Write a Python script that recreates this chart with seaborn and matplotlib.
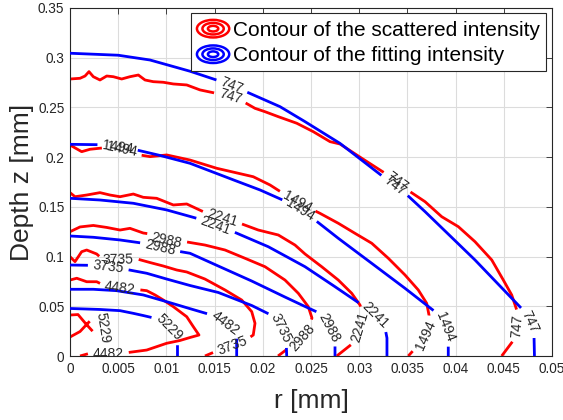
import numpy as np
import matplotlib
matplotlib.use("Agg")
import matplotlib.pyplot as plt
import seaborn as sns
from matplotlib.contour import ContourSet
from matplotlib.legend_handler import HandlerBase
from matplotlib.lines import Line2D
from matplotlib.patches import Ellipse
from matplotlib.ticker import FormatStrFormatter

# Contour levels of the intensity
levels = [747, 1494, 2241, 2988, 3735, 4482, 5229]

# Contours of the scattered (measured) intensity: radius r and depth z in mm
scat_747_r = [0, 0.00104, 0.00156, 0.00197, 0.00242, 0.00311, 0.00381, 0.00449, 0.00536, 0.00622,
              0.00709, 0.00778, 0.00864, 0.00968, 0.01072, 0.01211, 0.01349, 0.01487, 0.0166, 0.01798,
              0.01919, 0.02023, 0.02161, 0.02352, 0.02524, 0.02697, 0.02801, 0.02853, 0.03026, 0.03268,
              0.03392, 0.03527, 0.03683, 0.03856, 0.04028, 0.04201, 0.04375, 0.04495, 0.04582, 0.04634,
              0.04637, 0.04616, 0.04478]
scat_747_z = [0.2786, 0.2793, 0.2816, 0.2860, 0.2809, 0.2776, 0.2816, 0.2809, 0.2786, 0.2809,
              0.2826, 0.2776, 0.2759, 0.2753, 0.2736, 0.2726, 0.2676, 0.2648, 0.2605, 0.2558,
              0.2491, 0.2457, 0.2407, 0.2341, 0.2256, 0.2156, 0.2132, 0.2099, 0.1989, 0.1838,
              0.1750, 0.1653, 0.1552, 0.1401, 0.1301, 0.1150, 0.0966, 0.0764, 0.0614, 0.0463,
              0.0322, 0.0178, 0.0]
scat_1494_r = [0, 0.00121, 0.00207, 0.00363, 0.00519, 0.00726, 0.0083, 0.01003, 0.01245, 0.01522,
               0.01901, 0.02075, 0.02265, 0.02438, 0.02593, 0.02783, 0.02956, 0.0313, 0.03302, 0.03475,
               0.03613, 0.037, 0.03724, 0.03703, 0.03597, 0.03509]
scat_1494_z = [0.2122, 0.2055, 0.2079, 0.2095, 0.2082, 0.2022, 0.2005, 0.2022, 0.1971, 0.1888,
               0.1803, 0.1720, 0.1602, 0.1509, 0.1435, 0.1335, 0.1234, 0.1134, 0.0983, 0.0815,
               0.0664, 0.0530, 0.0412, 0.0231, 0.0094, 0.0]
scat_2241_r = [0, 0.00052, 0.00173, 0.00311, 0.00415, 0.00519, 0.00657, 0.0076, 0.00899, 0.01072,
               0.01211, 0.01383, 0.01556, 0.01763, 0.01953, 0.02161, 0.02334, 0.02438, 0.02611, 0.02783,
               0.02922, 0.03008, 0.03034, 0.03008, 0.02925, 0.02767]
scat_2241_z = [0.1643, 0.1602, 0.1619, 0.1643, 0.1619, 0.1602, 0.1629, 0.1596, 0.1586, 0.1519,
               0.1529, 0.1451, 0.1398, 0.1335, 0.1267, 0.1217, 0.1116, 0.1026, 0.0898, 0.0764,
               0.0631, 0.0513, 0.0443, 0.0292, 0.0121, 0.0]
scat_2988_r = [0, 0.00104, 0.00242, 0.00381, 0.00519, 0.00622, 0.0076, 0.0083, 0.01003, 0.01193,
               0.014, 0.01608, 0.01815, 0.02023, 0.0223, 0.02368, 0.02472, 0.0251, 0.02448, 0.02282,
               0.02158]
scat_2988_z = [0.1250, 0.1298, 0.1313, 0.1293, 0.1267, 0.1284, 0.1237, 0.1227, 0.1167, 0.1150,
               0.1116, 0.1066, 0.0983, 0.0898, 0.0764, 0.0631, 0.0496, 0.0382, 0.0221, 0.0091,
               0.0]
scat_3735_r = [0, 0.00052, 0.00121, 0.00173, 0.00277, 0.00345, 0.00498, 0.00695, 0.0083, 0.00968,
               0.01107, 0.01211, 0.014, 0.01608, 0.01781, 0.01885, 0.01919, 0.01901, 0.01763, 0.01577,
               0.01504, 0.014]
scat_3735_z = [0.0999, 0.0949, 0.1049, 0.1066, 0.1026, 0.0966, 0.0966, 0.0976, 0.0940, 0.0905,
               0.0865, 0.0845, 0.0774, 0.0664, 0.0563, 0.0446, 0.0329, 0.0211, 0.0121, 0.0070,
               0.0043, 0.0]
scat_4482_r = [0, 0.0007, 0.00173, 0.00277, 0.00345, 0.00519, 0.00692, 0.00796, 0.00882, 0.00968,
               0.01072, 0.01211, 0.01279, 0.01338, 0.01245, 0.01141, 0.01003, 0.00796, 0.00602, 0.00394,
               0.00225, 0.00104]
scat_4482_z = [0.0764, 0.0782, 0.0747, 0.0747, 0.0714, 0.0684, 0.0669, 0.0657, 0.0614, 0.0563,
               0.0496, 0.0395, 0.0295, 0.0211, 0.0186, 0.0156, 0.0128, 0.0060, 0.0035, 0.0020,
               0.0033, 0.0]
scat_5229_r = [0, 0.00083, 0.00166, 0.0028, 0.00322, 0.00353, 0.00311, 0.00249, 0.00187, 0.00104, 0]
scat_5229_z = [0.0412, 0.0417, 0.0322, 0.0201, 0.0191, 0.0262, 0.0342, 0.0392, 0.0332, 0.0246, 0.0191]

# Contours of the fitted intensity model
fit_747_r = [0.0, 0.0050, 0.0083, 0.01245, 0.01535, 0.01815, 0.02178, 0.02438, 0.0280, 0.03247,
             0.03496, 0.03683, 0.04201, 0.04689, 0.04761, 0.04813, 0.04818]
fit_747_z = [0.3045, 0.3025, 0.2977, 0.2864, 0.2771, 0.2663, 0.2508, 0.2357, 0.2139, 0.1804,
             0.1620, 0.1452, 0.0966, 0.0473, 0.0352, 0.0221, 0.0]
fit_1494_r = [0.0, 0.00311, 0.00692, 0.00934, 0.01245, 0.01712, 0.01971, 0.02206, 0.02365, 0.02541,
              0.02783, 0.0313, 0.03475, 0.03786, 0.03869, 0.03911, 0.03924, 0.03924]
fit_1494_z = [0.2129, 0.2125, 0.2072, 0.2017, 0.1938, 0.1765, 0.1670, 0.1569, 0.1479, 0.1368,
              0.1184, 0.0932, 0.0681, 0.0446, 0.0362, 0.0231, 0.0111, 0.0]
fit_2241_r = [0.0, 0.00311, 0.00657, 0.01003, 0.01314, 0.01483, 0.01694, 0.02057, 0.02438, 0.02749,
              0.03078, 0.03195, 0.03268, 0.03288, 0.03288]
fit_2241_z = [0.1586, 0.1569, 0.1536, 0.1469, 0.1385, 0.1318, 0.1250, 0.1099, 0.0898, 0.0697,
              0.0480, 0.0382, 0.0282, 0.0181, 0.0]
fit_2988_r = [0.0, 0.00242, 0.00519, 0.0076, 0.00934, 0.01107, 0.01245, 0.01538, 0.01885, 0.0223,
              0.02438, 0.02593, 0.02676, 0.02728, 0.02749, 0.02749]
fit_2988_z = [0.1207, 0.1194, 0.1167, 0.1134, 0.1094, 0.1056, 0.1033, 0.0905, 0.0754, 0.0593,
              0.0498, 0.0429, 0.0302, 0.0211, 0.0141, 0.0]
fit_3735_r = [0.0, 0.00207, 0.00415, 0.00588, 0.00796, 0.01003, 0.01245, 0.01538, 0.01885, 0.02127,
              0.02199, 0.02241, 0.02248]
fit_3735_z = [0.0915, 0.0912, 0.0893, 0.0870, 0.0832, 0.0774, 0.0709, 0.0639, 0.0508, 0.0392,
              0.0262, 0.0181, 0.0]
fit_4482_r = [0.0, 0.00242, 0.00484, 0.0076, 0.01003, 0.01245, 0.0147, 0.01608, 0.01691, 0.01729, 0.01729]
fit_4482_z = [0.0671, 0.0671, 0.0657, 0.0614, 0.0546, 0.0476, 0.0412, 0.0332, 0.0262, 0.0221, 0.0]
fit_5229_r = [0.0, 0.00311, 0.00519, 0.00657, 0.0076, 0.00892, 0.01017, 0.01089, 0.01115, 0.01115]
fit_5229_z = [0.0478, 0.0468, 0.0456, 0.0429, 0.0407, 0.0377, 0.0302, 0.0221, 0.0161, 0.0]

# Where the inline level labels sit (r, z)
scat_label_pos = [(0.0166, 0.2600), (0.03402, 0.1760), (0.04637, 0.0300),
                  (0.0054, 0.2075), (0.02355, 0.1545), (0.03683, 0.0211),
                  (0.01574, 0.1368), (0.0303, 0.0292),
                  (0.01003, 0.1167), (0.02403, 0.0194),
                  (0.00501, 0.0966), (0.01677, 0.0128),
                  (0.00519, 0.0690), (0.00397, 0.0020),
                  (0.0033, 0.0275)]
fit_label_pos = [(0.01677, 0.2709), (0.03371, 0.1720), (0.04772, 0.0342),
                 (0.00498, 0.2125), (0.02386, 0.1469), (0.0388, 0.0292),
                 (0.01504, 0.1297), (0.03146, 0.0392),
                 (0.00934, 0.1090), (0.02697, 0.0295),
                 (0.00397, 0.0890), (0.02196, 0.0278),
                 (0.01608, 0.0329),
                 (0.01037, 0.0295)]

legend_labels = ["Contour of the scattered intensity", "Contour of the fitting intensity"]

scat_r = [scat_747_r, scat_1494_r, scat_2241_r, scat_2988_r, scat_3735_r, scat_4482_r, scat_5229_r]
scat_z = [scat_747_z, scat_1494_z, scat_2241_z, scat_2988_z, scat_3735_z, scat_4482_z, scat_5229_z]
fit_r = [fit_747_r, fit_1494_r, fit_2241_r, fit_2988_r, fit_3735_r, fit_4482_r, fit_5229_r]
fit_z = [fit_747_z, fit_1494_z, fit_2241_z, fit_2988_z, fit_3735_z, fit_4482_z, fit_5229_z]


def level_segments(rs, zs):
    return [[np.column_stack([np.asarray(r, float), np.asarray(z, float)])] for r, z in zip(rs, zs)]


class RingHandler(HandlerBase):
    """Legend key drawn as concentric contour rings."""

    def create_artists(self, legend, orig_handle, xdescent, ydescent, width, height, fontsize, trans):
        cx = 0.5 * width - xdescent
        cy = 0.5 * height - ydescent
        rings = []
        for k in (1.0, 0.66, 0.32):
            rings.append(Ellipse((cx, cy), width * k, 0.85 * height * k, fill=False,
                                 edgecolor=orig_handle.get_color(), linewidth=1.8,
                                 transform=trans))
        return rings


sns.set_theme(style="whitegrid")
plt.rcParams["font.family"] = ["Liberation Sans", "DejaVu Sans"]
ink = "#262626"

fig = plt.figure(figsize=(5.63, 4.20), dpi=100)
fig.patch.set_facecolor("white")
ax = fig.add_axes([70 / 563, 1 - 356 / 420, 482 / 563, 348 / 420])
ax.set_facecolor("white")
ax.set_xlim(0, 0.05)
ax.set_ylim(0, 0.35)
ax.set_xticks(np.arange(0, 0.0501, 0.005))
ax.set_yticks(np.arange(0, 0.3501, 0.05))
ax.xaxis.set_major_formatter(FormatStrFormatter("%g"))
ax.yaxis.set_major_formatter(FormatStrFormatter("%g"))
ax.grid(True, color="#dcdcdc", linewidth=0.8)
ax.set_axisbelow(True)
for s in ax.spines.values():
    s.set_visible(True)
    s.set_color(ink)
    s.set_linewidth(0.8)
ax.tick_params(direction="in", length=4, width=0.6, color=ink, labelcolor=ink,
               top=True, right=True, labelsize=9.8, pad=4)

cs_scat = ContourSet(ax, levels, level_segments(scat_r, scat_z), colors="red",
                     linewidths=2.0, zorder=2)
cs_fit = ContourSet(ax, levels, level_segments(fit_r, fit_z), colors="blue",
                    linewidths=2.0, zorder=3)
ax.set_xlim(0, 0.05)
ax.set_ylim(0, 0.35)

ax.clabel(cs_scat, fmt="%d", manual=scat_label_pos, inline=True, inline_spacing=5,
          fontsize=10, colors=ink)
ax.clabel(cs_fit, fmt="%d", manual=fit_label_pos, inline=True, inline_spacing=5,
          fontsize=10, colors=ink)

ax.set_xlabel("r [mm]", fontsize=19, color=ink)
ax.set_ylabel("Depth z [mm]", fontsize=19, color=ink)
ax.xaxis.set_label_coords(0.5, -0.095)
ax.yaxis.set_label_coords(-0.075, 0.5)

handles = [Line2D([], [], color="red"), Line2D([], [], color="blue")]
leg = ax.legend(handles, legend_labels, handler_map={Line2D: RingHandler()},
                loc="upper right", bbox_to_anchor=(0.9876, 0.9865), borderaxespad=0,
                fontsize=15, handlelength=1.55, handleheight=1.15, handletextpad=0.2,
                labelspacing=0.2, borderpad=0.27, frameon=True, fancybox=False,
                framealpha=1, edgecolor=ink)
leg.get_frame().set_linewidth(0.8)
for t in leg.get_texts():
    t.set_color("black")

fig.savefig("out.png", dpi=100, facecolor="white")
